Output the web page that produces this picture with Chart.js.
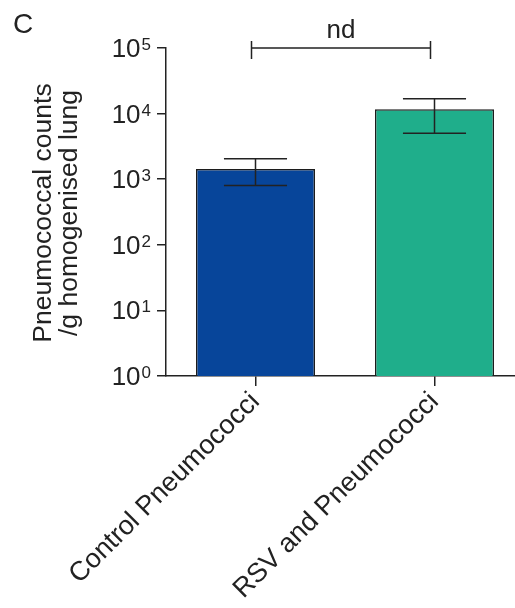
<!DOCTYPE html>
<html>
<head>
<meta charset="utf-8">
<script src="https://cdn.jsdelivr.net/npm/chart.js@4/dist/chart.umd.min.js"></script>
<style>
  html, body { margin: 0; padding: 0; background: #fff; overflow: hidden; }
  #wrap { position: relative; width: 530px; height: 608px; }
</style>
</head>
<body>
<div id="wrap"><canvas id="chart" width="530" height="608"></canvas></div>
<script>
// Lung pneumococcal counts per group (geometric scale), with error range
const groups = ['Control Pneumococci', 'RSV and Pneumococci'];
const meanCounts = [1430, 11600];
const lowerCounts = [800, 5000];
const upperCounts = [2050, 16900];
const tickExponents = [0, 1, 2, 3, 4, 5];
const panelLetter = 'C';
const yTitleLines = ['Pneumococcal counts', '/g homogenised lung'];
const comparisonLabel = 'nd';

const FONT = '"Liberation Sans", Arial, Helvetica, sans-serif';
const INK = '#222';
Chart.defaults.font.family = FONT;
Chart.defaults.color = INK;

// Error bars, comparison bracket, power-of-ten tick labels, axis title and panel letter
const annotations = {
  id: 'annotations',
  afterDatasetsDraw(chart) {
    const ctx = chart.ctx;
    const y = chart.scales.y;
    const bars = chart.getDatasetMeta(0).data;
    ctx.save();
    ctx.strokeStyle = INK;
    ctx.lineWidth = 1.5;
    bars.forEach((bar, i) => {
      const yHi = y.getPixelForValue(upperCounts[i]);
      const yLo = y.getPixelForValue(lowerCounts[i]);
      const half = bar.width * 0.265;
      ctx.beginPath();
      ctx.moveTo(bar.x, yHi); ctx.lineTo(bar.x, yLo);
      ctx.moveTo(bar.x - half, yHi); ctx.lineTo(bar.x + half, yHi);
      ctx.moveTo(bar.x - half, yLo); ctx.lineTo(bar.x + half, yLo);
      ctx.stroke();
    });
    ctx.restore();
  },
  afterDraw(chart) {
    const ctx = chart.ctx;
    const y = chart.scales.y;
    const bars = chart.getDatasetMeta(0).data;
    ctx.save();
    ctx.fillStyle = INK;
    ctx.strokeStyle = INK;
    ctx.lineWidth = 1.5;

    // comparison bracket at the top of the axis
    const by = y.getPixelForValue(Math.pow(10, tickExponents[tickExponents.length - 1]));
    const x1 = bars[0].x - 4, x2 = bars[1].x - 4;
    ctx.beginPath();
    ctx.moveTo(x1, by); ctx.lineTo(x2, by);
    ctx.moveTo(x1, by - 7); ctx.lineTo(x1, by + 11);
    ctx.moveTo(x2, by - 7); ctx.lineTo(x2, by + 11);
    ctx.stroke();
    ctx.font = '26px ' + FONT;
    ctx.textAlign = 'center';
    ctx.textBaseline = 'alphabetic';
    ctx.fillText(comparisonLabel, (x1 + x2) / 2, by - 10);

    // y tick labels written as 10 with a raised exponent
    const right = y.left + y.width - 15;
    tickExponents.forEach(e => {
      const py = y.getPixelForValue(Math.pow(10, e));
      ctx.font = '17px ' + FONT;
      const ew = ctx.measureText(String(e)).width;
      ctx.textAlign = 'left';
      ctx.fillText(String(e), right - ew, py + 2);
      ctx.font = '26px ' + FONT;
      ctx.textAlign = 'right';
      ctx.fillText('10', right - ew - 1, py + 9);
    });

    // two-line y axis title
    ctx.save();
    ctx.translate(0, (chart.chartArea.top + chart.chartArea.bottom) / 2 + 1);
    ctx.rotate(-Math.PI / 2);
    ctx.font = '26.5px ' + FONT;
    ctx.textAlign = 'center';
    ctx.fillText(yTitleLines[0], 0, 51);
    ctx.fillText(yTitleLines[1], 0, 77);
    ctx.restore();

    // panel letter
    ctx.font = '28px ' + FONT;
    ctx.textAlign = 'left';
    ctx.fillText(panelLetter, 13, 33);
    ctx.restore();
  }
};

new Chart(document.getElementById('chart'), {
  type: 'bar',
  data: {
    labels: groups,
    datasets: [{
      data: meanCounts,
      backgroundColor: ['#07459a', '#1fae8b'],
      borderColor: '#1c1c1c',
      borderWidth: 1.5,
      barPercentage: 0.665,
      categoryPercentage: 1
    }]
  },
  options: {
    responsive: false,
    animation: false,
    events: [],
    layout: { padding: { top: 48, right: 6, left: 0, bottom: 0 } },
    plugins: { legend: { display: false }, tooltip: { enabled: false } },
    scales: {
      x: {
        type: 'category',
        offset: true,
        grid: { offset: false, drawOnChartArea: false, tickLength: 10, color: INK, lineWidth: 1.5 },
        border: { display: true, color: INK, width: 1.5 },
        ticks: { font: { size: 27 }, color: INK, minRotation: 45, maxRotation: 45, padding: 0 },
        afterFit(scale) { scale.height = 232; }
      },
      y: {
        type: 'logarithmic',
        min: 1,
        max: 100000,
        afterBuildTicks(scale) {
          scale.ticks = tickExponents.map(e => ({ value: Math.pow(10, e) }));
        },
        grid: { drawOnChartArea: false, tickLength: 9, color: INK, lineWidth: 1.5 },
        border: { display: true, color: INK, width: 1.5 },
        ticks: { display: false },
        afterFit(scale) { scale.width = 166; }
      }
    }
  },
  plugins: [annotations]
});
</script>
</body>
</html>
